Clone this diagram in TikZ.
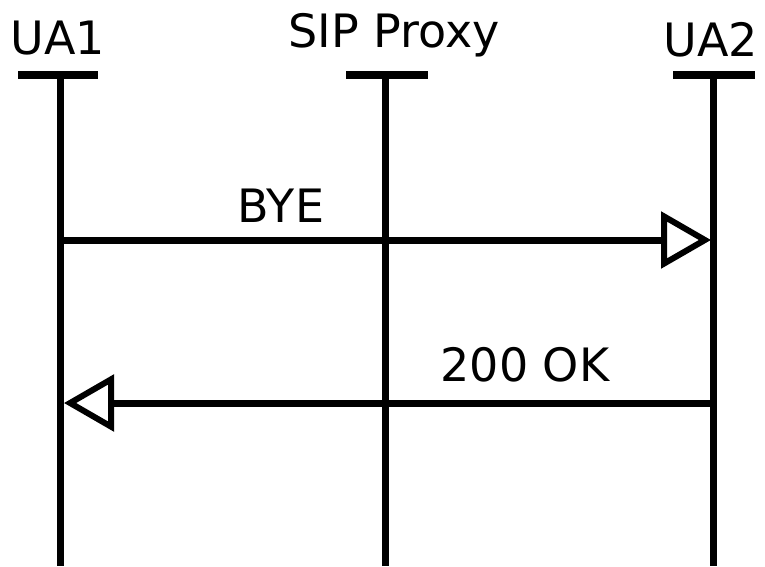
\documentclass[tikz,border=0pt]{standalone}
\usepackage{fontspec}
\setmainfont{DejaVu Sans}
\usetikzlibrary{arrows.meta}
\begin{document}
\begin{tikzpicture}[x=1pt,y=1pt,
  lifeline/.style={line width=7pt},
  headbar/.style={line width=8pt},
  msg/.style={line width=7pt,-{Triangle[open,length=50pt,width=56pt,line width=6pt]}},
  lbl/.style={font=\fontsize{46}{50}\selectfont,inner sep=0pt,anchor=base}]
\useasboundingbox (0,0) rectangle (765,566);
% lifeline coordinates
\coordinate (a1top) at (60,491);
\coordinate (a1bot) at (60,0);
\coordinate (ptop) at (385,491);
\coordinate (pbot) at (385,0);
\coordinate (a2top) at (713,491);
\coordinate (a2bot) at (713,0);
\coordinate (a1l) at (18,491); \coordinate (a1r) at (98,491);
\coordinate (pl) at (346,491); \coordinate (pr) at (428,491);
\coordinate (a2l) at (673,491); \coordinate (a2r) at (755,491);
\draw[lifeline] (a1top) -- (a1bot);
\draw[lifeline] (ptop) -- (pbot);
\draw[lifeline] (a2top) -- (a2bot);
\draw[headbar] (a1l) -- (a1r);
\draw[headbar] (pl) -- (pr);
\draw[headbar] (a2l) -- (a2r);
\node[lbl] (ua1) at (58,511) {UA1};
\node[lbl] (sip) at (394,518) {SIP Proxy};
\node[lbl] (ua2) at (711,509) {UA2};
% messages
\coordinate (bye1) at (60,326);
\coordinate (bye2) at (711,326);
\coordinate (ok2) at (713,163);
\coordinate (ok1) at (64,163);
\draw[msg] (bye1) -- (bye2);
\draw[msg] (ok2) -- (ok1);
\node[lbl] (bye) at (281,344) {BYE};
\node[lbl] (ok) at (525,185) {200 OK};
\end{tikzpicture}
\end{document}
